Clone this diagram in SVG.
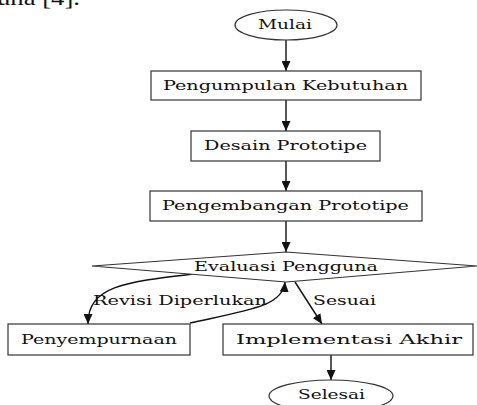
<svg xmlns="http://www.w3.org/2000/svg" width="477" height="405" viewBox="0 0 477 405">
<defs>
<style>
.n{fill:#fff;stroke:#333;stroke-width:1.2}
.t{font-family:"DejaVu Serif","Liberation Serif",serif;font-size:13.5px;fill:#111;text-anchor:middle}
.e{fill:none;stroke:#111;stroke-width:1.4}
</style>
<marker id="ah" markerUnits="userSpaceOnUse" markerWidth="10" markerHeight="9" refX="10" refY="4.5" orient="auto">
<path d="M0,0 L10,4.5 L0,9 z" fill="#111"/>
</marker>
</defs>
<rect width="477" height="405" fill="#fff"/>
<text x="-3" y="5" font-family="Liberation Serif,serif" font-size="22" fill="#111" textLength="83" lengthAdjust="spacingAndGlyphs">una [4].</text>
<g id="connectors">
<path class="e" d="M286,40 L286,71" marker-end="url(#ah)"/>
<path class="e" d="M286,100 L286,131" marker-end="url(#ah)"/>
<path class="e" d="M286,161 L286,191" marker-end="url(#ah)"/>
<path class="e" d="M286,221 L286,252" marker-end="url(#ah)"/>
<path class="e" d="M193,274 C125,282 88,286 88,324" marker-end="url(#ah)"/>
<path class="e" d="M190,323 C250,310 283,306 285,282" marker-end="url(#ah)"/>
<path class="e" d="M295,282 L322,324" marker-end="url(#ah)"/>
<path class="e" d="M331,355 L331,380" marker-end="url(#ah)"/>
<text class="t" x="180" y="305" textLength="174" lengthAdjust="spacingAndGlyphs">Revisi Diperlukan</text>
<text class="t" x="344.5" y="305" textLength="63" lengthAdjust="spacingAndGlyphs">Sesuai</text>
</g>
<g id="mulai">
<ellipse class="n" cx="286" cy="25" rx="51" ry="15"/>
<text class="t" x="285" y="29" textLength="54" lengthAdjust="spacingAndGlyphs">Mulai</text>
</g>
<g id="pengumpulan">
<rect class="n" x="151" y="71" width="270" height="29"/>
<text class="t" x="285.5" y="90" textLength="245" lengthAdjust="spacingAndGlyphs">Pengumpulan Kebutuhan</text>
</g>
<g id="desain">
<rect class="n" x="191" y="131" width="189" height="30"/>
<text class="t" x="285.5" y="150" textLength="163" lengthAdjust="spacingAndGlyphs">Desain Prototipe</text>
</g>
<g id="pengembangan">
<rect class="n" x="150" y="191" width="272" height="30"/>
<text class="t" x="285.5" y="210" textLength="247" lengthAdjust="spacingAndGlyphs">Pengembangan Prototipe</text>
</g>
<g id="evaluasi">
<polygon class="n" points="286,252 477,266 286,282 92,266"/>
<text class="t" x="286" y="271" textLength="184" lengthAdjust="spacingAndGlyphs">Evaluasi Pengguna</text>
</g>
<g id="penyempurnaan">
<rect class="n" x="8" y="324" width="182" height="31"/>
<text class="t" x="99" y="344" textLength="156" lengthAdjust="spacingAndGlyphs">Penyempurnaan</text>
</g>
<g id="implementasi">
<rect class="n" x="223" y="324" width="250" height="31"/>
<text class="t" x="349" y="344" textLength="226" lengthAdjust="spacingAndGlyphs">Implementasi Akhir</text>
</g>
<g id="selesai">
<ellipse class="n" cx="331" cy="396" rx="62" ry="16"/>
<text class="t" x="331.5" y="399" textLength="67" lengthAdjust="spacingAndGlyphs">Selesai</text>
</g>
</svg>
